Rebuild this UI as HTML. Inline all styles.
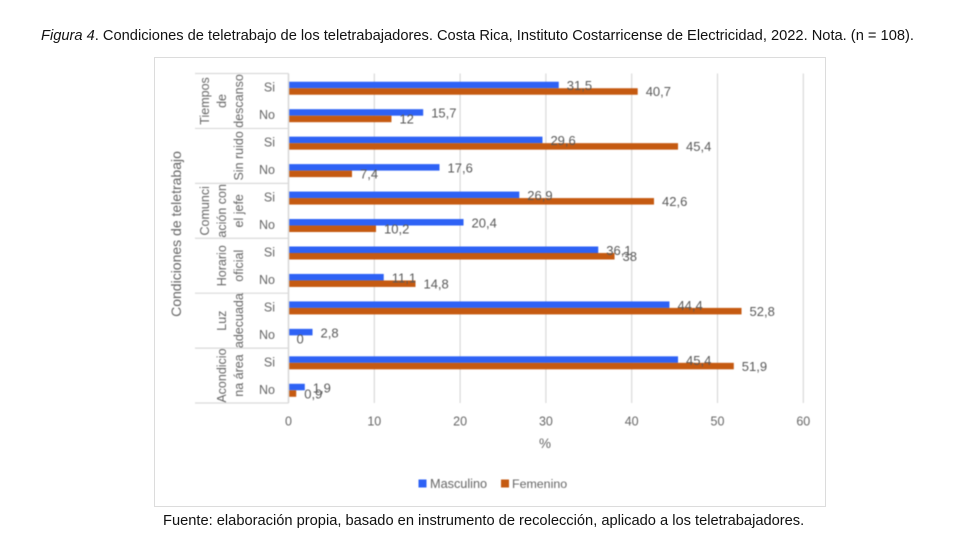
<!DOCTYPE html>
<html lang="es">
<head>
<meta charset="utf-8">
<title>Condiciones de teletrabajo</title>
<style>
html,body{margin:0;padding:0;background:#fff;}
body{width:960px;height:540px;position:relative;overflow:hidden;font-family:"Liberation Sans",Arial,sans-serif;}
.cap{position:absolute;white-space:nowrap;color:#111;font-size:14.67px;line-height:16px;}
#chart-frame{position:absolute;left:154px;top:57px;width:670px;height:448px;border:1.5px solid #dcdcdc;background:#fff;}
#chart{position:absolute;left:0;top:0;}
#chart text{font-family:"Liberation Sans",Arial,sans-serif;}
</style>
</head>
<body>
<div class="cap" style="left:41px;top:28px;"><i>Figura 4</i>. Condiciones de teletrabajo de los teletrabajadores. Costa Rica, Instituto Costarricense de Electricidad, 2022. Nota. (n = 108).</div>
<div id="chart-frame"></div>
<svg id="chart" width="960" height="540" viewBox="0 0 960 540" style="filter:blur(0.4px)"></svg>
<div class="cap" style="left:163px;top:513px;">Fuente: elaboración propia, basado en instrumento de recolección, aplicado a los teletrabajadores.</div>
<script>
const categories = ["Si","No","Si","No","Si","No","Si","No","Si","No","Si","No"];
const masculino = [31.5,15.7,29.6,17.6,26.9,20.4,36.1,11.1,44.4,2.8,45.4,1.9];
const femenino = [40.7,12,45.4,7.4,42.6,10.2,38,14.8,52.8,0,51.9,0.9];
const groups = [
  ["Tiempos","de","descanso"],
  ["","","Sin ruido"],
  ["Comunci","ación con","el jefe"],
  ["","Horario","oficial"],
  ["","Luz","adecuada"],
  ["","Acondicio","na área"]
];
const xTicks = [0,10,20,30,40,50,60];
const seriesNames = ["Masculino","Femenino"];
const axisTitleY = "Condiciones de teletrabajo";
const axisTitleX = "%";

const svg = document.getElementById('chart');
const NS = 'http://www.w3.org/2000/svg';
const blue = '#2e62f5', orange = '#c55a11', gridC = '#d9d9d9', txt = '#666666';
const x0 = 288.5, xPer = 8.58, top0 = 73.5, rowH = 27.46;
const xScale = v => x0 + v * xPer;
const rowY = i => top0 + (i + 0.5) * rowH;
const fmt = v => String(v).replace('.', ',');

function mk(tag, attrs, content) {
  const el = document.createElementNS(NS, tag);
  for (const k in attrs) el.setAttribute(k, attrs[k]);
  if (content !== undefined) el.textContent = content;
  svg.appendChild(el);
  return el;
}

xTicks.forEach(t => {
  const g = mk('line', {x1: xScale(t), x2: xScale(t), y1: top0, y2: top0 + rowH * 12, stroke: gridC, 'stroke-width': 1.2});
  
  
  const l = mk('text', {x: xScale(t), y: 425.5, 'text-anchor': 'middle', 'font-size': 12.5, fill: txt}, String(t));
  
  
});

groups.forEach((lines, gi) => {
  const yTop = top0 + gi * 2 * rowH;
  const sep = mk('line', {x1: 195, x2: x0, y1: yTop, y2: yTop, stroke: gridC, 'stroke-width': 1.2});
  
  
  const cols = [209, 226, 243];
  lines.forEach((s, li) => {
    if (!s) return;
    const cy = yTop + rowH;
    const t = mk('text', {x: cols[li], y: cy, 'text-anchor': 'middle', 'font-size': 12.5, fill: txt,
      transform: 'rotate(-90 ' + cols[li] + ' ' + cy + ')'}, s);
    
    
  });
});
const sepEnd = mk('line', {x1: 195, x2: x0, y1: top0 + 12 * rowH, y2: top0 + 12 * rowH, stroke: gridC, 'stroke-width': 1.2});



categories.forEach((c, i) => {
  const cy = rowY(i);
  const lab = mk('text', {x: 275, y: cy + 4.5, 'text-anchor': 'end', 'font-size': 12.5, fill: txt}, c);
  
  

  const b = mk('rect', {x: xScale(0), y: cy - 5.5, width: xScale(masculino[i]) - xScale(0), height: 6.5, fill: blue});
  
  
  const o = mk('rect', {x: xScale(0), y: cy + 1, width: xScale(femenino[i]) - xScale(0), height: 6.5, fill: orange});
  
  

  const lb = mk('text', {x: xScale(masculino[i]) + 8, y: cy + 3, 'font-size': 13, fill: '#595959'}, fmt(masculino[i]));
  
  
  const lo = mk('text', {x: xScale(femenino[i]) + 8, y: cy + 9, 'font-size': 13, fill: '#595959'}, fmt(femenino[i]));
  
  
});

const axisLine = mk('line', {x1: x0, x2: x0, y1: top0, y2: top0 + 12 * rowH, stroke: gridC, 'stroke-width': 1.5});



const yt = mk('text', {x: 181, y: 234, 'text-anchor': 'middle', 'font-size': 14, fill: txt, transform: 'rotate(-90 181 234)'}, axisTitleY);


const xt = mk('text', {x: 545, y: 448, 'text-anchor': 'middle', 'font-size': 13.5, fill: txt}, axisTitleX);



const sw1 = mk('rect', {x: 418.5, y: 479.5, width: 8, height: 8, fill: blue});


const lt1 = mk('text', {x: 430, y: 488, 'font-size': 12.7, fill: txt}, seriesNames[0]);


const sw2 = mk('rect', {x: 501, y: 479.5, width: 8, height: 8, fill: orange});


const lt2 = mk('text', {x: 512, y: 488, 'font-size': 12.4, fill: txt}, seriesNames[1]);


</script>
</body>
</html>
